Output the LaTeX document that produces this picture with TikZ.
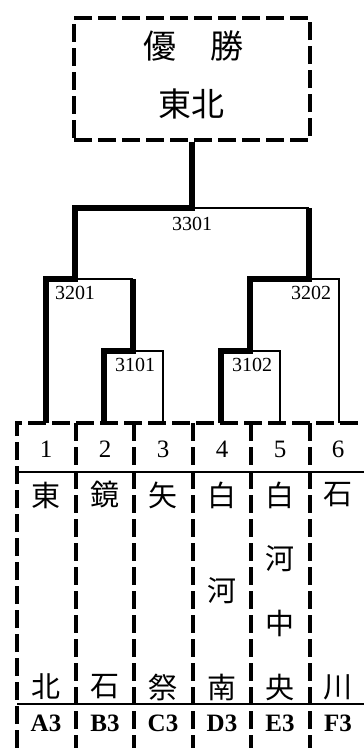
\documentclass[tikz,border=0pt]{standalone}
\usepackage{fontspec}
\newfontfamily\cjk{Noto Sans CJK JP}
\newfontfamily\latin{Liberation Serif}
\usetikzlibrary{positioning}

\begin{document}
\begin{tikzpicture}[
x=1pt, y=-1pt,
win/.style={line width=6pt},
lose/.style={line width=1.4pt},
half/.style={line width=2.6pt},
dashline/.style={line width=4pt, dash pattern=on 18pt off 6pt},
rule/.style={line width=1.5pt},
num/.style={font=\latin\fontsize{25}{25}\selectfont},
kanji/.style={font=\cjk\fontsize{29}{29}\selectfont},
title/.style={font=\cjk\fontsize{33}{33}\selectfont},
code/.style={font=\latin\bfseries\fontsize{25}{25}\selectfont},
game/.style={font=\latin\fontsize{20}{20}\selectfont, inner sep=0pt} ]

\useasboundingbox (0,0) rectangle (364,748);

\node[draw, dashline, minimum width=236pt, minimum height=122pt, anchor=north west] (champ) at (72,16) {};
\node[title] (yu) at (160,46) {優};
\node[title] (sho) at (227,46) {勝};
\node[title] (winner) at (191,104) {東北};

\coordinate (f1) at (46,423);
\coordinate (f2) at (104,423);
\coordinate (f3) at (163,423);
\coordinate (f4) at (221,423);
\coordinate (f5) at (280,423);
\coordinate (f6) at (339,423);

\coordinate (j3101) at (133,351);
\coordinate (j3102) at (250,351);
\coordinate (j3201) at (75,279);
\coordinate (j3202) at (309,279);
\coordinate (j3301) at (192,208);

\node[game] (g3101) at (135,365) {3101};
\node[game] (g3102) at (252,365) {3102};
\node[game] (g3201) at (75,293) {3201};
\node[game] (g3202) at (311,293) {3202};
\node[game] (g3301) at (192,224) {3301};

% bracket
\draw[win] (f1) |- (j3201) |- (j3301) -- (j3301 |- champ.south);
\draw[win] (f2) |- (j3101) -- (j3101 |- j3201);
\draw[half] (j3101 |- j3201) -- (j3201);
\draw[lose] (f3) |- (j3101);
\draw[win] (f4) |- (j3102) |- (j3202) -- (j3202 |- j3301);
\draw[half] (j3202 |- j3301) -- (j3301);
\draw[lose] (f5) |- (j3102);
\draw[lose] (f6) |- (j3202);

% table
\draw[dashline] (17,748) -- (17,423) -- (364,423);
\draw[dashline] (76,423) -- (76,748);
\draw[dashline] (134,423) -- (134,748);
\draw[dashline] (193,423) -- (193,748);
\draw[dashline] (251,423) -- (251,748);
\draw[dashline] (310,423) -- (310,748);
\draw[rule] (17,472) -- (364,472);
\draw[rule] (17,704) -- (364,704);

\node[num] (t1) at (46,449) {1};
\node[num] (t2) at (105,449) {2};
\node[num] (t3) at (163,449) {3};
\node[num] (t4) at (222,449) {4};
\node[num] (t5) at (280,449) {5};
\node[num] (t6) at (338,449) {6};

\node[kanji] (n1a) at (46,495) {東};
\node[kanji] (n1b) at (46,687) {北};
\node[kanji] (n2a) at (105,495) {鏡};
\node[kanji] (n2b) at (105,687) {石};
\node[kanji] (n3a) at (163,495) {矢};
\node[kanji] (n3b) at (163,687) {祭};
\node[kanji] (n4a) at (222,495) {白};
\node[kanji] (n4b) at (222,591) {河};
\node[kanji] (n4c) at (222,687) {南};
\node[kanji] (n5a) at (280,495) {白};
\node[kanji] (n5b) at (280,559) {河};
\node[kanji] (n5c) at (280,623) {中};
\node[kanji] (n5d) at (280,687) {央};
\node[kanji] (n6a) at (338,495) {石};
\node[kanji] (n6b) at (338,687) {川};

\node[code] (c1) at (46,723) {A3};
\node[code] (c2) at (105,723) {B3};
\node[code] (c3) at (163,723) {C3};
\node[code] (c4) at (222,723) {D3};
\node[code] (c5) at (280,723) {E3};
\node[code] (c6) at (338,723) {F3};

\end{tikzpicture}
\end{document}
